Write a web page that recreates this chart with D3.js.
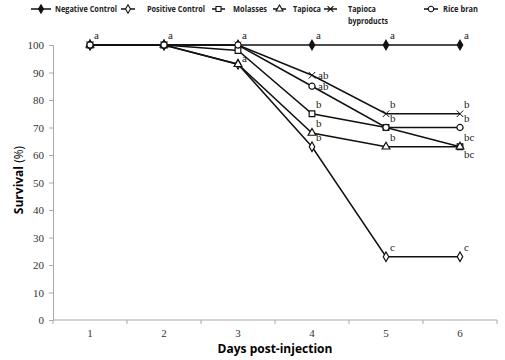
<!DOCTYPE html>
<html><head><meta charset="utf-8">
<script src="https://cdn.jsdelivr.net/npm/d3@7"></script>
<style>body{margin:0;background:#fff}svg{display:block}</style>
</head><body>
<svg id="c" width="505" height="360"></svg>
<script>
const days = ["1","2","3","4","5","6"];
const seriesNames = ["Negative Control","Positive Control","Molasses","Tapioca","Tapioca byproducts","Rice bran"];
const negativeControl = [100,100,100,100,100,100];
const positiveControl = [100,100,93,63,23,23];
const molasses = [100,100,98,75,70,63];
const tapioca = [100,100,93,68,63,63];
const tapiocaByproducts = [100,100,100,89,75,75];
const riceBran = [100,100,100,85,70,70];
const yTicks = [0,10,20,30,40,50,60,70,80,90,100];
// significance letters per day, and where each sits beside its marker
const lettersNeg = ["a","a","a","a","a","a"];
const lettersPos = ["","","","b","c","c"];
const lettersMol = ["","","a","b","","bc"];
const lettersTap = ["","","","b","b","bc"];
const lettersByp = ["","","","ab","b","b"];
const lettersRice = ["","","","ab","b","b"];
const placeNeg = ["above","above","above","above","above","above"];
const placePos = ["","","","above","above","above"];
const placeMol = ["","","below","above","","below"];
const placeTap = ["","","","above","above","above"];
const placeByp = ["","","","right","above","above"];
const placeRice = ["","","","right","above","above"];

const series = [
  {name:seriesNames[0], values:negativeControl, sym:"diamond", fill:true, letters:lettersNeg, place:placeNeg},
  {name:seriesNames[1], values:positiveControl, sym:"diamond", fill:false, letters:lettersPos, place:placePos},
  {name:seriesNames[2], values:molasses, sym:"square", fill:false, letters:lettersMol, place:placeMol},
  {name:seriesNames[3], values:tapioca, sym:"triangle", fill:false, letters:lettersTap, place:placeTap},
  {name:seriesNames[4], values:tapiocaByproducts, sym:"x", fill:false, letters:lettersByp, place:placeByp},
  {name:seriesNames[5], values:riceBran, sym:"circle", fill:false, letters:lettersRice, place:placeRice}
];

const svg = d3.select("#c");
const x = d3.scaleBand().domain(days).range([53,497]);
const y = d3.scaleLinear().domain([0,100]).range([320,45]);
const cx = d => x(d) + x.bandwidth()/2;

function symPath(type, size){
  const m = {diamond:d3.symbolDiamond, square:d3.symbolSquare, triangle:d3.symbolTriangle, circle:d3.symbolCircle, x:d3.symbolX};
  return d3.symbol(m[type], size)();
}
const symSize = {diamond:26, square:32, triangle:26, circle:30, x:30};

// axes
const yAxis = d3.axisLeft(y).tickValues(yTicks).tickSize(4).tickPadding(5);
const gy = svg.append("g").attr("transform","translate(53,0)").call(yAxis);
gy.select(".domain").attr("stroke","#aaa");
gy.selectAll(".tick line").attr("stroke","#aaa");
gy.selectAll("text").attr("font-family","'Liberation Serif',serif").attr("font-size",11).attr("fill","#333");

const gx = svg.append("g").attr("transform","translate(0,320)");
gx.append("line").attr("x1",53).attr("x2",497).attr("stroke","#aaa");
const bounds = days.map(d=>x(d)).concat([x(days[days.length-1])+x.bandwidth()]);
gx.selectAll("line.t").data(bounds).join("line").attr("class","t")
  .attr("x1",d=>d).attr("x2",d=>d).attr("y1",0).attr("y2",4).attr("stroke","#aaa");
gx.selectAll("text").data(days).join("text")
  .attr("x",d=>cx(d)).attr("y",17).attr("text-anchor","middle")
  .attr("font-family","'Liberation Serif',serif").attr("font-size",11).attr("fill","#333").text(d=>d);

// titles
svg.append("text").attr("x",275).attr("y",353).attr("text-anchor","middle")
  .attr("font-family","'Open Sans',sans-serif").attr("font-weight","bold").attr("font-size",12).text("Days post-injection");
const yt = svg.append("text").attr("transform","translate(23,180) rotate(-90)").attr("text-anchor","middle")
  .attr("font-family","'Open Sans',sans-serif").attr("font-size",12);
yt.append("tspan").attr("font-weight","bold").text("Survival");
yt.append("tspan").text(" (%)");

// lines
const line = d3.line().x((v,i)=>cx(days[i])).y(v=>y(v));
svg.selectAll("path.ln").data(series).join("path").attr("class","ln")
  .attr("d",s=>line(s.values)).attr("fill","none").attr("stroke","#111").attr("stroke-width",1.5);

// markers
series.forEach(s=>{
  svg.append("g").selectAll("path").data(s.values).join("path")
    .attr("transform",(v,i)=>`translate(${cx(days[i])},${y(v)})`)
    .attr("d",symPath(s.sym, symSize[s.sym]))
    .attr("fill", s.sym==="x" ? "#111" : (s.fill ? "#111" : "#fff"))
    .attr("stroke","#111").attr("stroke-width", s.sym==="x"?1:1.2);
});

// letters
series.forEach(s=>{
  s.letters.forEach((L,i)=>{
    if(!L) return;
    const px = cx(days[i]), py = y(s.values[i]);
    let dx=4, dy=-6;
    if(s.place[i]==="right"){dx=6; dy=4;}
    if(s.place[i]==="below"){dx=4; dy=11;}
    svg.append("text").attr("x",px+dx).attr("y",py+dy)
      .attr("font-family","'Liberation Serif',serif").attr("font-size",11).attr("fill","#222").text(L);
  });
});

// legend
const legend = [
  {s:series[0], lx:31, lw:20, tx:55, w:[62]},
  {s:series[1], lx:121, lw:14, tx:147, w:[58]},
  {s:series[2], lx:212, lw:13, tx:233, w:[34]},
  {s:series[3], lx:273, lw:13, tx:293, w:[28]},
  {s:series[4], lx:324, lw:13, tx:348, w:[28,40]},
  {s:series[5], lx:424, lw:14, tx:443, w:[35]}
];
legend.forEach(l=>{
  const g = svg.append("g");
  g.append("line").attr("x1",l.lx).attr("x2",l.lx+l.lw).attr("y1",9).attr("y2",9).attr("stroke","#111").attr("stroke-width",1.5);
  g.append("path").attr("transform",`translate(${l.lx+l.lw/2},9)`).attr("d",symPath(l.s.sym, symSize[l.s.sym]*0.8))
    .attr("fill", l.s.sym==="x" ? "#111" : (l.s.fill ? "#111" : "#fff")).attr("stroke","#111").attr("stroke-width",1.1);
  const words = l.s.name==="Tapioca byproducts" ? ["Tapioca","byproducts"] : [l.s.name];
  words.forEach((w,k)=>g.append("text").attr("x",l.tx).attr("y",12+k*12)
    .attr("font-family","'Open Sans',sans-serif").attr("font-weight","bold").attr("font-size",8.5).attr("fill","#222")
    .attr("textLength",l.w[k]).attr("lengthAdjust","spacingAndGlyphs").text(w));
});
</script>
</body></html>
